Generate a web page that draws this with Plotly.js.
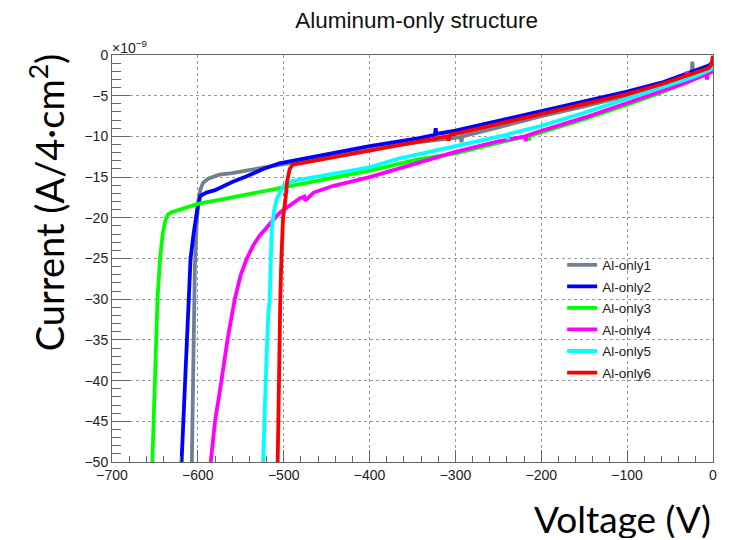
<!DOCTYPE html>
<html>
<head>
<meta charset="utf-8">
<script src="https://cdn.plot.ly/plotly-3.0.1.min.js"></script>
<style>html,body{margin:0;padding:0;background:#fff;}#chart{width:740px;height:540px;}</style>
</head>
<body>
<div id="chart"></div>
<script>
// Current values in units of 1e-9 A (axis shows ×10^-9)
const names = ["Al-only1", "Al-only2", "Al-only3", "Al-only4", "Al-only5", "Al-only6"];
const colors = ["#708090", "#0000ff", "#00ff00", "#ff00ff", "#00ffff", "#ff0000"];

const v1 = [-607,-606,-605,-603.5,-601.5,-599.5,-597,-594,-588,-575,-560,-540,-520,-500,-470,-440,-400,-365,-342,-310,-294,-293,-292,-250,-200,-150,-100,-60,-30,-25,-24,-23,-10,-3,0];
const i1 = [-50,-42,-33,-26,-21,-18,-16.5,-15.7,-15.2,-14.7,-14.5,-14.1,-13.8,-13.4,-12.9,-12.3,-11.7,-11.0,-10.7,-10.3,-10.1,-10.7,-10.0,-8.9,-7.5,-6.3,-5.0,-3.8,-2.6,-2.4,-0.8,-2.3,-1.8,-1.4,-0.9];

const v2 = [-619,-617,-614.5,-612.4,-610,-608.5,-605,-602,-600,-597,-590,-580,-560,-543,-524,-505,-480,-446,-400,-342,-324,-323,-322,-300,-250,-200,-150,-100,-60,-20,-5,0];
const i2 = [-50,-45,-40,-35,-30,-25,-22,-20,-18.5,-17.3,-16.9,-16.6,-15.6,-14.9,-14.0,-13.3,-12.8,-12.1,-11.2,-10.2,-9.8,-9.0,-9.7,-9.3,-8.1,-6.9,-5.7,-4.5,-3.4,-1.9,-1.3,-0.9];

const v3 = [-653,-651,-649,-647,-644,-641,-638,-635,-630,-620,-600,-560,-530,-500,-450,-400,-342,-300,-250,-215,-214,-213,-200,-150,-100,-60,-20,-5,0];
const i3 = [-50,-42,-36,-30,-25,-22,-20.4,-19.6,-19.3,-19.0,-18.3,-17.5,-16.9,-16.3,-15.3,-14.2,-12.8,-12.1,-10.8,-9.9,-10.5,-9.9,-9.5,-7.9,-6.1,-4.6,-2.9,-2.2,-1.8];

const v4 = [-585,-580,-572.5,-565.5,-557,-550,-543,-535,-528,-520,-513,-505,-497,-481,-476,-475,-465,-443,-400,-342,-300,-250,-219,-218,-217,-200,-150,-100,-60,-31,-30,-29,-20,-8,-7,-6,0];
const i4 = [-50,-45,-40,-35,-30,-27,-25,-23.3,-22.2,-21.2,-20.3,-19.4,-18.8,-17.6,-17.4,-17.9,-16.9,-16.1,-15.0,-13.2,-11.9,-10.6,-10.0,-10.6,-9.9,-9.3,-7.7,-5.9,-4.5,-3.4,-2.0,-3.3,-2.9,-2.4,-3.0,-2.3,-2.0];

const v5 = [-524,-522,-520,-518,-516.3,-515,-514,-511,-508,-504,-499,-490,-481,-443,-400,-365,-342,-300,-240,-239,-238,-200,-150,-100,-60,-20,-5,0];
const i5 = [-50,-42,-37,-32,-30,-25,-21.5,-19,-17.7,-16.8,-16.0,-15.5,-15.3,-14.6,-13.8,-12.7,-12.2,-11.2,-9.8,-10.4,-9.7,-8.7,-7.1,-5.4,-4.0,-2.6,-1.9,-1.6];

const v6 = [-507,-506,-505.4,-504,-502.7,-500.8,-498,-496,-493,-490,-481,-465,-443,-400,-342,-310,-308,-306,-300,-250,-200,-150,-100,-60,-20,-5,-2,0];
const i6 = [-50,-42,-35,-30,-25,-20,-17.8,-15.5,-14.0,-13.5,-13.3,-13.0,-12.6,-11.8,-10.6,-10.0,-10.5,-9.8,-9.7,-8.5,-7.2,-6.0,-4.8,-3.6,-2.1,-1.6,-1.2,-0.1];

const xs = [v1, v2, v3, v4, v5, v6];
const ys = [i1, i2, i3, i4, i5, i6];

const titleText = "Aluminum-only structure";
const xTitle = "Voltage (V)";
const yTitle = "Current (A/4·cm<sup>2</sup>)";
const expText = "×10<sup>−9</sup>";

const traces = names.map((n, k) => ({
  type: "scatter",
  mode: "lines",
  name: n,
  legendgroup: n,
  x: xs[k],
  y: ys[k],
  line: {color: colors[k], width: 3.8},
  hoverinfo: "skip"
}));

const axisCommon = {
  showline: true, linecolor: "#666", linewidth: 1, mirror: true,
  ticks: "inside", tickcolor: "#666", tickwidth: 1,
  showgrid: true, gridcolor: "#9a9a9a", griddash: "dot", gridwidth: 1,
  zeroline: false,
  tickfont: {family: "Liberation Sans, Arial, sans-serif", size: 14, color: "#222"}
};

const layout = {
  width: 740, height: 540,
  margin: {l: 112, r: 27, t: 55, b: 78},
  paper_bgcolor: "#fff", plot_bgcolor: "#fff",
  title: {
    text: titleText,
    font: {family: "Liberation Sans, Arial, sans-serif", size: 22.5, color: "#111"},
    x: 0.563, xanchor: "center", y: 0.963, yanchor: "middle"
  },
  xaxis: Object.assign({}, axisCommon, {
    range: [-700, 0], tick0: 0, dtick: 100, ticklen: 12,
    minor: {dtick: 20, ticks: "inside", ticklen: 6, tickcolor: "#666", showgrid: false}
  }),
  yaxis: Object.assign({}, axisCommon, {
    range: [-50, 0], tick0: 0, dtick: 5, ticklen: 18,
    minor: {dtick: 1, ticks: "inside", ticklen: 9, tickcolor: "#666", showgrid: false}
  }),
  legend: {
    x: 0.749, xanchor: "left", y: 0.522, yanchor: "top",
    bgcolor: "rgba(0,0,0,0)", borderwidth: 0,
    tracegroupgap: 1,
    font: {family: "Liberation Sans, Arial, sans-serif", size: 13.5, color: "#222"}
  },
  showlegend: true,
  annotations: [
    {text: expText, xref: "paper", yref: "paper", x: 0, y: 1, xanchor: "left", yanchor: "bottom",
     showarrow: false, font: {family: "Liberation Sans, Arial, sans-serif", size: 14, color: "#222"}, yshift: -3, xshift: -2},
    {text: yTitle, xref: "paper", yref: "paper", x: -0.108, y: 0.636, xanchor: "center", yanchor: "middle",
     textangle: -90, showarrow: false, font: {family: "Lato, sans-serif", size: 38, color: "#000"}},
    {text: xTitle, xref: "paper", yref: "paper", x: 1, y: -0.1376, xanchor: "right", yanchor: "middle",
     height: 40, valign: "middle",
     showarrow: false, font: {family: "Lato, sans-serif", size: 37, color: "#000"}}
  ]
};

Plotly.newPlot("chart", traces, layout, {staticPlot: true, displayModeBar: false});
</script>
</body>
</html>
